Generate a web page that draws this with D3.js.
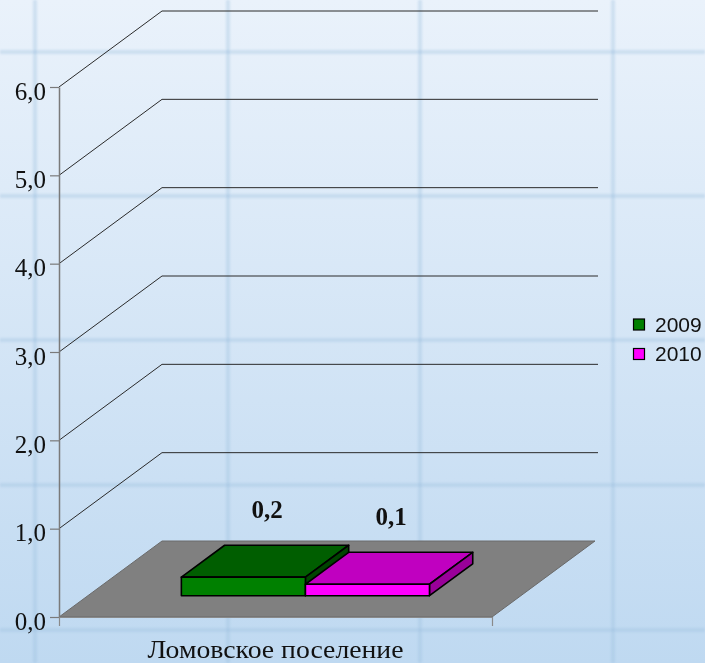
<!DOCTYPE html>
<html>
<head>
<meta charset="utf-8">
<script src="https://cdn.jsdelivr.net/npm/d3@7/dist/d3.min.js"></script>
<style>
html,body{margin:0;padding:0;width:705px;height:663px;overflow:hidden;}
svg{display:block;}
</style>
</head>
<body>
<svg id="chart" width="705" height="663"></svg>
<script>
// ---- data ----
const categories = ["Ломовское поселение"];
const seriesNames = ["2009", "2010"];
const values2009 = [0.21];
const values2010 = [0.13];
const yTicks = [0, 1, 2, 3, 4, 5, 6];

const seriesValues = [values2009, values2010];
const frontColors = ["#008000", "#ff00ff"];
const topColors = ["#005e00", "#c000c0"];
const sideColors = ["#004400", "#990099"];

const svg = d3.select("#chart");
const W = 705, H = 663;

// background gradient
const defs = svg.append("defs");
const grad = defs.append("linearGradient").attr("id", "bg").attr("x1", 0).attr("y1", 0).attr("x2", 0).attr("y2", 1);
grad.append("stop").attr("offset", "0%").attr("stop-color", "#eaf2fb");
grad.append("stop").attr("offset", "100%").attr("stop-color", "#bfd9f1");
const blur = defs.append("filter").attr("id", "blur").attr("x", "-10%").attr("y", "-10%").attr("width", "120%").attr("height", "120%");
blur.append("feGaussianBlur").attr("stdDeviation", 1.2);
svg.append("rect").attr("width", W).attr("height", H).attr("fill", "url(#bg)");

const deco = svg.append("g").attr("filter", "url(#blur)");
[52, 196, 340, 485, 630].forEach(yy => deco.append("rect").attr("x", 0).attr("y", yy - 2).attr("width", W).attr("height", 4).attr("fill", "#9fbfe0").attr("opacity", 0.35));
[35, 228, 420, 613].forEach(xx => deco.append("rect").attr("x", xx - 2).attr("y", 0).attr("width", 4).attr("height", H).attr("fill", "#9fbfe0").attr("opacity", 0.35));

// ---- scales ----
const y = d3.scaleLinear().domain([0, 6]).range([617, 87]);
const x = d3.scaleBand().domain(categories).range([59, 492]).padding(0);
const DX = 103, DY = -76; // full depth offset
const backRight = 598;

// projection of (frontX, value, depth 0..1)
function P(fx, v, z) { return [fx + z * DX, y(v) + z * DY]; }

// floor
const floorPts = [P(x.range()[0], 0, 0), P(x.range()[1], 0, 0), P(x.range()[1], 0, 1), P(x.range()[0], 0, 1)];
svg.append("polygon").attr("points", floorPts.map(p => p.join(",")).join(" "))
  .attr("fill", "#808080").attr("stroke", "#6a6a6a").attr("stroke-width", 1);

// grid lines (back wall + diagonal on side wall)
const grid = svg.append("g");
yTicks.filter(t => t > 0).forEach(t => {
  const p0 = P(x.range()[0], t, 0), p1 = P(x.range()[0], t, 1);
  grid.append("path")
    .attr("d", `M${p0[0]},${p0[1]}L${p1[0]},${p1[1]}L${backRight},${p1[1]}`)
    .attr("fill", "none").attr("stroke", "#2a2a2a").attr("stroke-width", 1);
});

// y axis
const fmt = v => d3.format(".1f")(v).replace(".", ",");
const yAxis = svg.append("g").attr("transform", `translate(${x.range()[0]},0)`)
  .call(d3.axisLeft(y).tickValues(yTicks).tickFormat(fmt).tickSize(9).tickSizeOuter(0));
yAxis.select(".domain").attr("stroke", "#7a7a7a").attr("stroke-width", 1.5);
yAxis.selectAll(".tick line").attr("stroke", "#7a7a7a").attr("stroke-width", 1.2);
yAxis.selectAll(".tick text").attr("x", -13).attr("dy", "0.49em")
  .attr("font-family", "'Liberation Serif','Times New Roman',serif").attr("font-size", 25).attr("fill", "#111");

// x axis
const xAxis = svg.append("g").attr("transform", `translate(0,${y(0)})`)
  .call(d3.axisBottom(x).tickValues([]).tickSizeOuter(9));
xAxis.select(".domain").attr("stroke", "#8a8a8a").attr("stroke-width", 1.2);
svg.append("text").attr("x", x(categories[0]) + x.bandwidth() / 2).attr("y", 658)
  .attr("text-anchor", "middle").attr("font-family", "'Liberation Serif','Times New Roman',serif")
  .attr("font-size", 25).attr("textLength", 256).attr("lengthAdjust", "spacingAndGlyphs")
  .attr("fill", "#111").text(categories[0]);

// bars
const zf = 0.28, zb = 0.70;
const bars = svg.append("g");
const labels = svg.append("g");
categories.forEach((c, ci) => {
  const x0 = x(c), bw = x.bandwidth();
  const xs = d3.scaleBand().domain(seriesNames).range([x0 + bw * 0.216, x0 + bw * 0.789]).padding(0);
  seriesNames.forEach((s, si) => {
    const v = seriesValues[si][ci];
    const a = xs(s), b = xs(s) + xs.bandwidth();
    const g = bars.append("g").attr("stroke", "#000").attr("stroke-width", 1.6).attr("stroke-linejoin", "round");
    const poly = pts => pts.map(p => p.join(",")).join(" ");
    // top
    g.append("polygon").attr("points", poly([P(a, v, zf), P(b, v, zf), P(b, v, zb), P(a, v, zb)])).attr("fill", topColors[si]);
    // side
    g.append("polygon").attr("points", poly([P(b, 0, zf), P(b, v, zf), P(b, v, zb), P(b, 0, zb)])).attr("fill", sideColors[si]);
    // front
    g.append("polygon").attr("points", poly([P(a, 0, zf), P(b, 0, zf), P(b, v, zf), P(a, v, zf)])).attr("fill", frontColors[si]);
    // label
    const tf = P((a + b) / 2, v, (zf + zb) / 2);
    const tb = P(a, v, zb);
    labels.append("text").attr("x", tf[0] + 2).attr("y", tb[1] - 27)
      .attr("text-anchor", "middle").attr("font-family", "'Liberation Serif','Times New Roman',serif")
      .attr("font-weight", "bold").attr("font-size", 25).attr("fill", "#111").text(fmt(Math.round(v * 10) / 10));
  });
});

// legend
const legend = svg.append("g");
seriesNames.forEach((s, i) => {
  const ly = 319 + i * 29.5;
  legend.append("rect").attr("x", 633.5).attr("y", ly).attr("width", 11).attr("height", 11)
    .attr("fill", frontColors[i]).attr("stroke", "#000").attr("stroke-width", 1.2);
  legend.append("text").attr("x", 655).attr("y", ly + 12.5)
    .attr("font-family", "'Liberation Sans',Arial,sans-serif").attr("font-size", 21).attr("fill", "#111").text(s);
});
</script>
</body>
</html>
